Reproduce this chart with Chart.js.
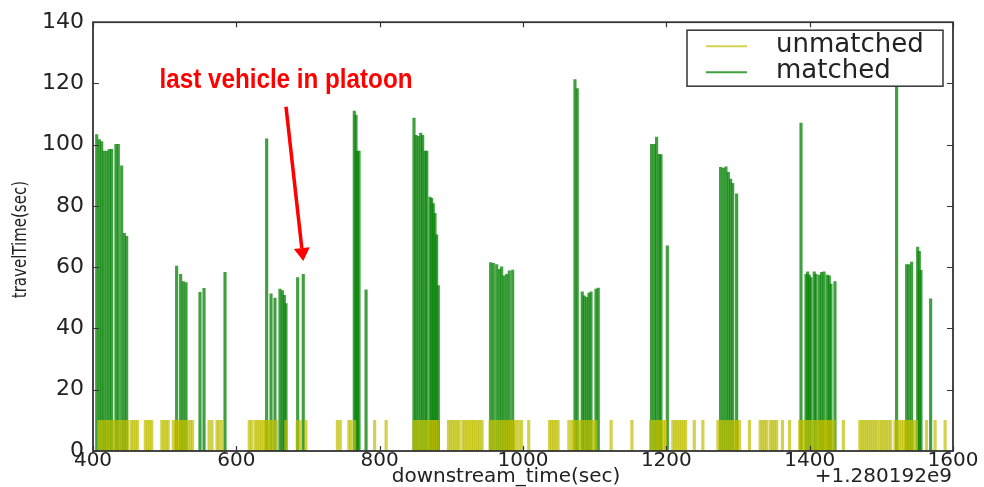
<!DOCTYPE html>
<html>
<head>
<meta charset="utf-8">
<title>travelTime vs downstream_time</title>
<script src="https://cdn.jsdelivr.net/npm/chart.js@4.4.1/dist/chart.umd.min.js"></script>
<style>
  html, body { margin: 0; padding: 0; background: #fff; }
</style>
</head>
<body>
<canvas id="travelChart" width="984" height="487"></canvas>
<script>
// downstream detection times (sec, offset +1.280192e9) and travel times (sec)
const unmatchedTimes = [
  408, 411, 414, 418, 421, 424, 428, 431, 435, 438, 441, 445, 448,
  453, 456, 459, 462, 473, 476, 479, 482, 496, 499, 502, 505,
  512, 515, 518, 521, 524, 527, 530, 533, 536, 539, 562, 566, 573, 576, 580,
  618, 621, 626, 629, 632, 635, 638, 641, 644, 647, 650, 653, 656, 669, 685, 689, 697,
  741, 745, 757, 760, 765, 793, 809,
  848, 851, 854, 857, 860, 863, 866, 869, 872, 875, 878, 881,
  896, 899, 902, 905, 908, 911, 916, 919, 922, 925, 928, 931, 934, 937, 940, 943,
  954, 957, 960, 963, 966, 969, 972, 975, 978, 981, 984, 987, 990, 994, 998, 1008,
  1037, 1040, 1043, 1046, 1049, 1064, 1068, 1071, 1074, 1078, 1081, 1085, 1088, 1092, 1095, 1099, 1102,
  1123, 1152, 1178, 1181, 1184, 1187, 1190, 1193, 1196, 1199,
  1209, 1212, 1215, 1218, 1221, 1224, 1227, 1239, 1251,
  1272, 1275, 1278, 1281, 1284, 1287, 1290, 1293, 1296, 1299, 1302,
  1316, 1331, 1334, 1337, 1340, 1345, 1348, 1351, 1354, 1362, 1372,
  1386, 1389, 1392, 1395, 1398, 1401, 1404, 1407, 1410, 1413, 1416, 1419, 1422, 1425, 1428, 1431, 1434,
  1447, 1470, 1473, 1476, 1479, 1482, 1485, 1488, 1491, 1494,
  1498, 1501, 1504, 1507, 1510, 1513, 1519, 1522, 1525, 1528, 1531, 1534, 1537, 1540, 1543, 1546, 1549,
  1563, 1575, 1589
];
// every unmatched vehicle sits at the same travel time
const unmatchedTravelTime = 10;

const matchedTimes = [
  405.2, 408.8, 412.1, 415.3, 419.1, 422.7, 426, 432, 435.3, 440, 443.7, 447,
  516.7, 522.3, 526, 529.8, 549.3, 554.9, 584.2,
  642.3, 648.4, 653.9, 660.9, 664.2, 667, 669.3, 685.6, 693.4,
  764.6, 767, 768.8, 771.2, 781,
  847.9, 850.7, 853.9, 857.3, 860, 863.3, 865.7, 870.2, 872.6, 874.8, 877.2, 879.5, 881.8,
  954.9, 958.6, 963.3, 966.9, 970.2, 973.5, 977.2, 980.9, 985.6,
  1072.5, 1075.7, 1082.7, 1085.5, 1088.8, 1092, 1094.9, 1101.8, 1105,
  1179.4, 1183.2, 1186.4, 1190.1, 1192.5, 1201.4,
  1275.7, 1279.5, 1283.2, 1286.5, 1289.7, 1292.6, 1298.1,
  1387.9, 1394.9, 1397.2, 1399.5, 1401.8, 1406.4, 1408.8, 1413.4, 1416.7, 1420, 1424.6, 1427.4, 1429.7, 1435.3,
  1521.3, 1535.3, 1538.6, 1542.3, 1550.7, 1553, 1555.3, 1568.8
];
const matchedTravel = [
  103.3, 101.7, 101, 97.9, 97.9, 98.5, 98.5, 100.1, 100.1, 93.1, 71.1, 70.1,
  60.4, 57.7, 55.3, 55, 51.8, 53.1, 58.3,
  101.9, 51.3, 49.9, 52.9, 52.4, 50.8, 48.1, 56.6, 57.7,
  111, 109.7, 97.9, 97.9, 52.6,
  108.7, 103.1, 102.7, 103.8, 103.1, 97.9, 97.9, 82.9, 82.5, 80.8, 77.6, 70.6, 54,
  61.5, 61.3, 60.9, 59.3, 60.1, 57.2, 57.7, 58.8, 59.1,
  121.3, 118.3, 52, 50.7, 50.2, 51.6, 52, 52.9, 53.2,
  100.1, 100.1, 102.5, 96.9, 96.8, 67,
  92.6, 92.4, 92.8, 91, 88.8, 87.4, 84,
  107.1, 57.7, 58.5, 57.4, 56.6, 58.5, 57.7, 57.4, 58.3, 58.5, 57.4, 57.2, 54.5, 55.3,
  123, 60.9, 60.9, 61.7, 66.6, 65.2, 59, 49.7
];

const xTickValues = [400, 600, 800, 1000, 1200, 1400, 1600];
const yTickValues = [0, 20, 40, 60, 80, 100, 120, 140];
const xOffsetLabel = '+1.280192e9';

// annotation: text anchor and arrow in data units (time, travelTime)
const noteText = 'last vehicle in platoon';
const noteAnchor = { x: 669.3, y: 118.4 };
const arrowFrom = { x: 669.3, y: 112.4 };
const arrowTo = { x: 693.4, y: 62 };

const COLOR_UNMATCHED = 'rgba(191, 191, 0, 0.7)';
const COLOR_MATCHED = 'rgba(0, 128, 0, 0.75)';
const AXIS_COLOR = '#333';
const TEXT_COLOR = '#222';
const FONT = '"DejaVu Sans", Verdana, sans-serif';

// frame, inward ticks, axis titles, legend and the red note
const decorPlugin = {
  id: 'decor',
  afterDatasetsDraw(chart) {
    const { ctx, chartArea: a, scales: { x, y } } = chart;
    ctx.save();

    ctx.strokeStyle = AXIS_COLOR;
    ctx.lineWidth = 1.2;
    ctx.beginPath();
    xTickValues.forEach(v => {
      const px = Math.round(x.getPixelForValue(v)) + 0.5;
      ctx.moveTo(px, a.bottom); ctx.lineTo(px, a.bottom - 5);
      ctx.moveTo(px, a.top); ctx.lineTo(px, a.top + 5);
    });
    yTickValues.forEach(v => {
      const py = Math.round(y.getPixelForValue(v)) + 0.5;
      ctx.moveTo(a.left, py); ctx.lineTo(a.left + 6, py);
      ctx.moveTo(a.right, py); ctx.lineTo(a.right - 6, py);
    });
    ctx.stroke();

    ctx.lineWidth = 1.8;
    ctx.strokeRect(a.left, a.top, a.width, a.height);

    // axis titles
    ctx.fillStyle = TEXT_COLOR;
    ctx.font = '20px ' + FONT;
    ctx.textAlign = 'center';
    ctx.textBaseline = 'alphabetic';
    ctx.fillText('downstream_time(sec)', 506, 482);
    ctx.textAlign = 'right';
    ctx.fillText(xOffsetLabel, a.right - 1, 482);

    ctx.save();
    ctx.translate(21, (a.top + a.bottom) / 2 + 3);
    ctx.scale(1.3, 1);
    ctx.rotate(-Math.PI / 2);
    ctx.font = '15px ' + FONT;
    ctx.textAlign = 'center';
    ctx.textBaseline = 'middle';
    ctx.fillText('travelTime(sec)', 0, 0);
    ctx.restore();

    // legend box
    const lw = 256, lh = 56;
    const lx = a.right - 10 - lw, ly = a.top + 8;
    ctx.fillStyle = '#fff';
    ctx.fillRect(lx, ly, lw, lh);
    ctx.strokeStyle = AXIS_COLOR;
    ctx.lineWidth = 1.5;
    ctx.strokeRect(lx, ly, lw, lh);
    const entries = [
      { label: 'unmatched', color: COLOR_UNMATCHED, dy: 16 },
      { label: 'matched', color: COLOR_MATCHED, dy: 42 }
    ];
    ctx.font = '26px ' + FONT;
    ctx.textAlign = 'left';
    ctx.textBaseline = 'middle';
    entries.forEach(e => {
      ctx.strokeStyle = e.color;
      ctx.lineWidth = 2;
      ctx.beginPath();
      ctx.moveTo(lx + 19, ly + e.dy);
      ctx.lineTo(lx + 60, ly + e.dy);
      ctx.stroke();
      ctx.fillStyle = TEXT_COLOR;
      ctx.fillText(e.label, lx + 89, ly + e.dy - 1);
    });

    // red note with arrow
    ctx.fillStyle = '#ff0000';
    ctx.strokeStyle = '#ff0000';
    ctx.font = 'bold 28px "Liberation Sans Narrow", "Liberation Sans", Arial, sans-serif';
    ctx.textAlign = 'center';
    ctx.textBaseline = 'alphabetic';
    const tx = x.getPixelForValue(noteAnchor.x), ty = y.getPixelForValue(noteAnchor.y);
    const tw = ctx.measureText(noteText).width;
    const maxW = 253;
    ctx.save();
    ctx.translate(tx, ty);
    if (tw > maxW) ctx.scale(maxW / tw, 1);
    ctx.fillText(noteText, 0, 0);
    ctx.restore();

    const x0 = x.getPixelForValue(arrowFrom.x), y0 = y.getPixelForValue(arrowFrom.y);
    const x1 = x.getPixelForValue(arrowTo.x), y1 = y.getPixelForValue(arrowTo.y);
    const ang = Math.atan2(y1 - y0, x1 - x0);
    const headLen = 13, headHalf = 8;
    const bx = x1 - headLen * Math.cos(ang), by = y1 - headLen * Math.sin(ang);
    ctx.lineWidth = 3.5;
    ctx.beginPath();
    ctx.moveTo(x0, y0);
    ctx.lineTo(bx, by);
    ctx.stroke();
    ctx.beginPath();
    ctx.moveTo(x1, y1);
    ctx.lineTo(bx + headHalf * Math.sin(ang), by - headHalf * Math.cos(ang));
    ctx.lineTo(bx - headHalf * Math.sin(ang), by + headHalf * Math.cos(ang));
    ctx.closePath();
    ctx.fill();

    ctx.restore();
  }
};

const ctx = document.getElementById('travelChart').getContext('2d');
const travelChart = new Chart(ctx, {
  type: 'bar',
  data: {
    datasets: [{
      label: 'unmatched',
      data: unmatchedTimes.map(t => ({ x: t, y: unmatchedTravelTime })),
      backgroundColor: COLOR_UNMATCHED,
      barThickness: 2.5,
      grouped: false
    }, {
      label: 'matched',
      data: matchedTimes.map((t, i) => ({ x: t, y: matchedTravel[i] })),
      backgroundColor: COLOR_MATCHED,
      barThickness: 2.5,
      grouped: false
    }]
  },
  options: {
    responsive: false,
    animation: false,
    layout: {
      padding: { top: 16, right: 31, left: 0, bottom: 0 }
    },
    scales: {
      x: {
        type: 'linear',
        min: 400,
        max: 1600,
        offset: false,
        grid: { display: false, drawTicks: false },
        border: { display: false },
        afterBuildTicks: s => { s.ticks = xTickValues.map(v => ({ value: v })); },
        afterFit: s => { s.height = 36; },
        ticks: {
          padding: -2,
          color: TEXT_COLOR,
          maxRotation: 0,
          autoSkip: false,
          font: { family: FONT, size: 20 },
          callback: v => String(v)
        }
      },
      y: {
        min: 0,
        max: 140,
        grid: { display: false, drawTicks: false },
        border: { display: false },
        afterBuildTicks: s => { s.ticks = yTickValues.map(v => ({ value: v })); },
        afterFit: s => { s.width = 93; },
        ticks: {
          padding: 9,
          color: TEXT_COLOR,
          font: { family: FONT, size: 22 },
          callback: v => String(v)
        }
      }
    },
    plugins: {
      legend: { display: false },
      tooltip: { enabled: false }
    }
  },
  plugins: [decorPlugin]
});
</script>
</body>
</html>
